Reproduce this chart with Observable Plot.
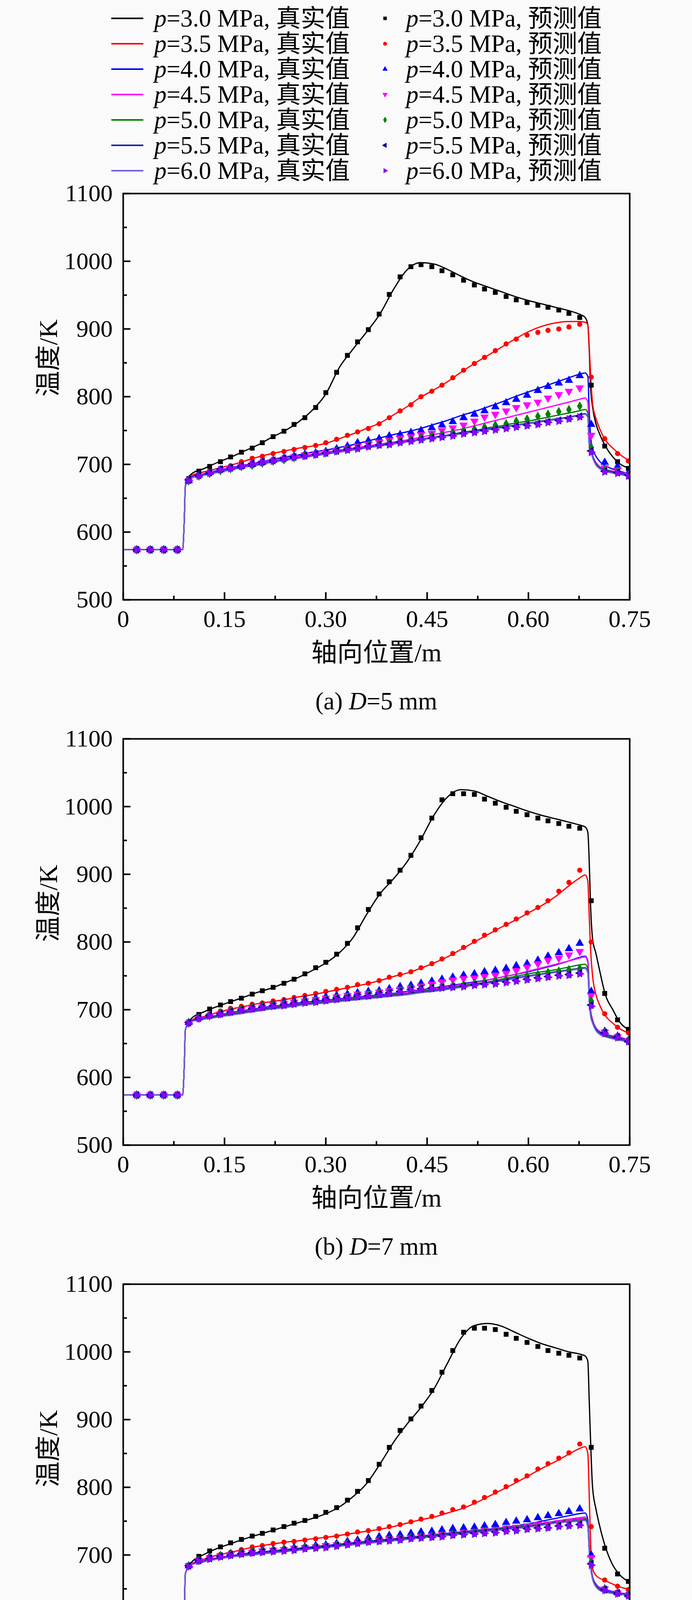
<!DOCTYPE html>
<html><head><meta charset="utf-8">
<script src="https://cdn.jsdelivr.net/npm/d3@7"></script>
<script src="https://cdn.jsdelivr.net/npm/@observablehq/plot@0.6"></script>
<style>
html,body{margin:0;padding:0;background:#fafafa;}
body{width:1772px;height:4625px;position:relative;overflow:hidden;font-family:"Liberation Serif","Noto Sans CJK SC",serif;color:#000;}
.lt{position:absolute;font-size:63px;line-height:72px;white-space:nowrap;}
.cap{position:absolute;left:315px;width:1297px;text-align:center;font-size:63px;line-height:76px;white-space:nowrap;}
</style></head><body>
<script>
// ---------- data ----------
const pressures = ["3.0","3.5","4.0","4.5","5.0","5.5","6.0"];
const lineColors = ["#000000","#ff0000","#0000ff","#ff00ff","#008000","#2020b0","#7060e0"];
const markColors = ["#000000","#ff0000","#0000ff","#ff00ff","#008000","#000090","#8a00ff"];
const panelTags = ["(a)","(b)","(c)"];
const diameters = ["5","7","9"];

const xTicks = [0, 0.15, 0.30, 0.45, 0.60, 0.75];
const xTickLabels = ["0","0.15","0.30","0.45","0.60","0.75"];
const xMinor = [0.075, 0.225, 0.375, 0.525, 0.675];
const yTicks = [500, 600, 700, 800, 900, 1000, 1100];
const yMinor = [550, 650, 750, 850, 950, 1050];

// x positions of the simulated ("真实值") curves
const lineX = [0, 0.088, 0.0905, 0.092, 0.095,
  0.10, 0.12, 0.14, 0.16, 0.18, 0.20, 0.22, 0.24, 0.26, 0.28, 0.30, 0.32, 0.34, 0.36, 0.38,
  0.40, 0.42, 0.44, 0.46, 0.48, 0.50, 0.52, 0.54, 0.56, 0.58, 0.60, 0.62, 0.64, 0.66,
  0.675, 0.684, 0.688, 0.690, 0.692, 0.695, 0.70, 0.705, 0.714, 0.725, 0.735, 0.75];

// x positions of the predicted ("预测值") markers
const markX = [0.02, 0.04, 0.06, 0.08,
  0.097, 0.112, 0.128, 0.144, 0.159, 0.175,
  0.191, 0.206, 0.222, 0.238, 0.253, 0.269, 0.285, 0.300, 0.316, 0.332,
  0.347, 0.363, 0.379, 0.394, 0.410, 0.426, 0.441, 0.457, 0.472, 0.488,
  0.504, 0.520, 0.535, 0.551, 0.567, 0.582, 0.598, 0.614, 0.629, 0.645,
  0.660, 0.676,
  0.693, 0.713, 0.732, 0.748];

// ----- panel (a) D=5 mm -----
const linesA = [
  [574,574,620,668,678, 685,694,703,711,720,729,740,750,763,780,804,843,870,895,922,958,987,998,996,988,978,969,962,955,948,942,937,932,927, 922,917,906,870,815,785,760,746,727,711,701,694],
  [574,574,620,668,677, 683,689,694,699,705,711,716,720,724,727,731,738,745,753,761,773,785,799,810,822,836,849,861,873,885,896,904,909,911, 911,910,906,875,835,790,768,754,736,724,715,705],
  [574,574,620,667,676, 681,686,691,695,699,703,707,711,714,718,721,725,729,734,739,744,748,753,759,765,772,778,785,792,800,807,814,821,828, 833,835,830,780,742,724,712,705,698,693,690,686],
  [574,574,620,667,676, 680,685,690,694,698,702,706,709,712,715,718,721,724,727,730,733,736,740,744,748,752,757,762,767,772,777,782,787,792, 796,798,792,745,725,713,703,697,693,690,688,685],
  [574,574,620,667,675, 680,685,689,693,697,701,704,707,710,713,716,719,722,725,728,731,734,737,740,743,747,750,754,757,761,764,768,772,776, 779,781,776,735,723,712,701,696,692,689,687,684],
  [574,574,620,667,675, 680,685,689,693,697,700,704,707,710,713,716,719,722,725,728,731,734,737,740,743,746,749,752,755,758,761,764,767,770, 773,775,770,730,722,712,700,695,691,688,686,684],
  [574,574,620,667,675, 680,684,688,692,696,699,703,706,709,712,715,718,721,724,727,730,733,736,739,742,745,748,751,754,757,760,763,766,769, 772,774,769,728,720,710,699,694,690,687,685,683]
];
const marksA = [
  [574,574,574,574, 679,690,697,704,711,718, 724,732,741,749,759,769,784,806,836,861, 881,899,922,951,977,992,995,992,986,980, 972,965,959,954,948,943,939,935,932,928, 923,917, 817,727,704,694],
  [574,574,574,574, 678,685,690,694,698,704, 709,712,716,719,722,725,728,732,737,743, 748,753,760,769,779,788,800,808,817,828, 839,849,858,868,878,885,891,895,898,900, 903,907, 829,738,716,705],
  [574,574,574,574, 676,684,688,692,695,697, 700,703,706,709,712,715,717,719,723,727, 732,735,738,742,744,747,750,754,758,763, 769,774,779,785,791,796,802,809,815,820, 824,831, 759,703,697,687],
  [574,574,574,574, 676,683,687,691,694,697, 699,702,705,708,711,714,716,718,721,724, 727,730,733,736,739,741,744,746,750,754, 758,764,770,774,779,784,788,792,798,803, 808,813, 743,695,692,685],
  [574,574,574,574, 676,683,687,691,694,697, 699,702,705,707,710,713,715,717,720,723, 725,728,730,733,735,737,740,742,744,747, 750,752,755,758,760,764,767,771,774,778, 781,786, 725,692,690,684],
  [574,574,574,574, 677,684,688,693,695,698, 701,704,706,709,711,713,715,717,720,722, 724,727,729,730,733,735,737,739,741,743, 746,748,750,752,754,756,758,760,763,765, 768,771, 720,690,688,684],
  [574,574,574,574, 676,683,687,692,694,697, 700,703,705,708,710,712,714,716,719,721, 723,726,728,729,732,734,736,738,740,742, 745,747,749,751,753,755,757,759,762,764, 767,770, 718,689,687,683]
];

// ----- panel (b) D=7 mm -----
const linesB = [
  [574,574,620,670,678, 686,697,705,712,719,726,732,740,748,758,769,784,806,840,871,893,918,950,987,1014,1025,1023,1015,1007,1000,993,987,982,977, 973,970,962,920,855,805,783,760,722,700,682,670],
  [574,574,620,670,678, 684,690,696,701,705,709,712,715,719,722,726,730,734,738,743,749,754,761,769,778,789,800,811,822,832,843,854,867,883, 894,899,890,840,790,750,722,708,691,680,672,665],
  [574,574,620,670,678, 683,688,692,696,699,702,705,707,710,712,714,716,718,720,722,724,727,729,732,735,738,741,744,748,752,756,761,766,772, 777,779,772,730,700,685,673,668,664,661,659,655],
  [574,574,620,670,678, 683,688,692,695,698,701,704,706,709,711,713,715,717,719,721,723,726,728,731,734,737,740,744,748,752,757,762,767,772, 776,778,770,728,698,684,672,667,663,660,658,654],
  [574,574,620,670,678, 683,687,691,694,697,700,703,705,708,710,712,714,716,718,720,722,724,727,729,732,735,738,741,745,749,753,756,759,763, 766,767,760,722,695,682,671,666,662,659,657,654],
  [574,574,620,670,678, 683,687,690,693,696,699,702,704,707,709,711,713,715,717,719,721,723,726,728,731,734,737,740,743,747,750,753,756,759, 761,762,755,718,693,681,670,665,661,658,656,653],
  [574,574,620,670,678, 682,686,689,692,695,698,701,703,706,708,710,712,714,716,718,720,722,725,727,730,733,736,739,742,746,749,752,755,758, 760,761,754,716,691,680,669,664,660,657,655,652]
];
const marksB = [
  [574,574,574,574, 682,693,701,707,712,717, 723,728,733,739,745,753,762,770,782,798, 821,848,871,889,906,928,954,983,1010,1019, 1019,1018,1011,1005,999,993,988,983,979,975, 971,968, 861,724,685,671],
  [574,574,574,574, 682,690,693,698,702,705, 708,710,713,715,718,721,724,727,730,733, 737,739,743,748,752,756,762,768,775,783, 792,801,810,818,826,834,843,851,861,875, 888,906, 800,694,674,666],
  [574,574,574,574, 681,688,692,695,698,701, 704,706,708,711,713,715,717,719,721,723, 725,727,728,731,734,736,739,742,745,748, 751,753,756,758,761,765,768,773,779,784, 790,798, 727,668,661,655],
  [574,574,574,574, 680,687,691,694,697,700, 702,704,707,709,711,713,715,717,719,721, 723,724,726,728,730,732,735,738,741,744, 746,747,749,751,754,758,763,768,773,776, 781,786, 721,667,660,654],
  [574,574,574,574, 681,688,692,695,698,701, 703,705,707,708,710,712,713,715,717,719, 721,722,724,726,728,731,732,733,734,735, 737,739,741,743,745,747,750,752,755,757, 759,761, 713,666,660,654],
  [574,574,574,574, 681,688,692,694,697,700, 702,704,706,707,709,711,712,714,716,718, 720,721,723,725,727,730,731,732,733,734, 735,737,738,739,741,743,745,747,749,751, 752,754, 707,666,660,653],
  [574,574,574,574, 680,687,691,693,696,699, 701,703,705,706,708,710,711,713,715,717, 719,720,722,724,726,729,730,731,732,733, 734,736,737,738,740,742,744,746,748,750, 751,753, 705,665,659,653]
];

// ----- panel (c) D=9 mm -----
const linesC = [
  [574,574,620,672,680, 688,701,710,717,724,730,736,742,748,754,761,771,786,805,834,866,893,917,945,983,1020,1039,1042,1038,1029,1020,1012,1006,1000, 997,994,986,930,870,800,768,745,712,685,671,660],
  [574,574,620,672,680, 686,694,700,704,709,713,716,719,721,724,726,729,732,735,738,742,747,752,756,762,768,776,786,796,806,817,828,838,849, 857,860,850,790,720,680,670,666,662,657,653,649],
  [574,574,620,672,680, 686,692,696,699,702,704,706,708,710,712,714,716,718,720,722,724,726,728,730,732,734,736,738,740,743,746,750,754,758, 761,762,752,715,690,668,657,652,649,646,644,642],
  [574,574,620,672,680, 686,692,696,699,701,703,705,707,709,711,713,715,717,719,721,723,725,727,729,731,733,735,737,739,742,744,747,750,753, 755,756,746,712,688,667,656,651,648,645,643,642],
  [574,574,620,672,680, 686,691,695,698,701,703,705,707,709,711,713,715,717,719,721,723,725,727,729,731,733,735,737,739,741,743,746,749,752, 753,754,744,710,686,666,655,650,647,644,643,641],
  [574,574,620,672,680, 685,691,695,698,700,702,704,706,708,710,712,714,716,718,720,722,724,726,728,730,732,734,736,738,740,742,745,748,750, 751,752,742,708,684,665,654,649,646,644,642,641],
  [574,574,620,672,680, 685,690,694,697,699,701,703,705,707,709,711,713,715,717,719,721,723,725,727,729,731,733,735,737,739,741,744,747,749, 750,751,741,706,682,664,653,648,645,643,642,640]
];
const marksC = [
  [574,574,574,574, 684,698,706,712,718,723, 728,732,737,742,747,751,757,763,770,781, 794,810,834,859,884,901,920,943,970,1002, 1029,1035,1035,1033,1026,1020,1014,1008,1002,998, 995,991, 859,710,672,661],
  [574,574,574,574, 684,694,698,701,704,708, 712,714,717,719,720,722,724,726,728,731, 734,736,739,742,745,749,753,757,762,767, 771,778,785,793,801,810,817,827,835,843, 851,864, 742,663,654,649],
  [574,574,574,574, 684,692,697,699,702,704, 705,707,708,709,711,712,714,715,717,720, 722,725,727,729,730,732,734,735,737,739, 740,741,743,745,748,750,752,755,758,761, 764,768, 700,650,644,641],
  [574,574,574,574, 684,692,696,699,701,703, 704,706,707,708,710,711,712,714,715,717, 719,721,722,724,725,726,728,729,731,732, 734,735,737,738,740,741,743,745,746,748, 750,752, 696,650,644,641],
  [574,574,574,574, 684,692,696,699,701,703, 705,706,707,708,709,711,712,713,715,717, 719,721,722,723,724,726,727,728,729,731, 732,733,734,735,737,738,740,741,742,744, 745,747, 690,649,644,641],
  [574,574,574,574, 684,692,695,698,700,702, 704,705,706,707,708,710,711,712,714,716, 718,720,721,722,723,725,726,727,728,730, 731,732,733,734,736,737,739,740,741,743, 744,745, 687,649,644,640],
  [574,574,574,574, 683,691,694,697,699,701, 703,704,705,706,707,709,710,711,713,715, 717,719,720,721,722,724,725,726,727,729, 730,731,732,733,735,736,738,739,740,742, 743,744, 685,648,643,640]
];

// ---------- symbols ----------
const SQ3 = Math.sqrt(3);
function triangleSymbol(turn) {
  return {
    draw(ctx, size) {
      const y = -Math.sqrt(size / (SQ3 * 3));
      const pts = [[0, y * 2], [-SQ3 * y, -y], [SQ3 * y, -y]];
      pts.forEach(([px, py], k) => {
        const [qx, qy] = turn(px, py);
        if (k) ctx.lineTo(qx, qy); else ctx.moveTo(qx, qy);
      });
      ctx.closePath();
    }
  };
}
const triUp = d3.symbolTriangle;
const triDown = triangleSymbol((x, y) => [x, -y]);
const triLeft = triangleSymbol((x, y) => [y, x]);
const triRight = triangleSymbol((x, y) => [-y, x]);
const symbols = [d3.symbolSquare, d3.symbolCircle, triUp, triDown, d3.symbolDiamond, triLeft, triRight];
const markR = [7.0, 6.6, 8.0, 8.0, 7.4, 7.8, 7.8];

const FONT = "Liberation Serif, Noto Sans CJK SC, serif";

// ---------- legend ----------
const body = d3.select("body");
pressures.forEach((p, i) => {
  const yc = 47 + 65 * i;
  body.append("svg").style("position", "absolute").style("left", "285px").style("top", (yc - 5) + "px")
    .attr("width", 82).attr("height", 10)
    .append("line").attr("x1", 0).attr("x2", 82).attr("y1", 5).attr("y2", 5)
    .attr("stroke", lineColors[i]).attr("stroke-width", 4);
  body.append("div").attr("class", "lt").style("left", "395px").style("top", (yc - 36) + "px")
    .html(`<i>p</i>=${p} MPa, 真实值`);
  body.append("svg").style("position", "absolute").style("left", "971px").style("top", (yc - 15) + "px")
    .attr("width", 30).attr("height", 30)
    .append("path").attr("transform", "translate(15,15)")
    .attr("d", d3.symbol(symbols[i], Math.PI * 5 * 5)())
    .attr("fill", markColors[i]);
  body.append("div").attr("class", "lt").style("left", "1040px").style("top", (yc - 36) + "px")
    .html(`<i>p</i>=${p} MPa, 预测值`);
});

// ---------- panels ----------
function makePanel(k, lines, marks) {
  const lineMarks = lines.map((vals, i) => Plot.line(lineX.map((x, j) => ({x, y: vals[j]})), {
    x: "x", y: "y", stroke: lineColors[i], strokeWidth: 3.2, curve: "monotone-x", clip: true
  }));
  const dotMarks = marks.map((vals, i) => Plot.dot(markX.map((x, j) => ({x, y: vals[j]})), {
    x: "x", y: "y", symbol: symbols[i], r: markR[i], fill: markColors[i], stroke: "none", clip: true
  }));
  const svg = Plot.plot({
    width: 1772, height: 1270,
    marginTop: 25, marginLeft: 315, marginRight: 160, marginBottom: 205,
    x: {domain: [0, 0.75]},
    y: {domain: [500, 1100]},
    style: {fontFamily: FONT, fontSize: "62px", background: "transparent", color: "#000", overflow: "visible"},
    marks: [
      ...lineMarks,
      ...dotMarks,
      Plot.frame({stroke: "#000", strokeWidth: 4}),
      Plot.axisX(xTicks, {tickSize: -19, tickPadding: 44, strokeWidth: 4, fontSize: 62, label: null,
        tickFormat: d => xTickLabels[xTicks.indexOf(d)]}),
      Plot.axisX(xMinor, {tickSize: -10, strokeWidth: 4, label: null, tickFormat: () => ""}),
      Plot.axisY(yTicks, {tickSize: -19, tickPadding: 46, strokeWidth: 4, fontSize: 62, label: null,
        tickFormat: d => String(d)}),
      Plot.axisY(yMinor, {tickSize: -10, strokeWidth: 4, label: null, tickFormat: () => ""}),
      Plot.text(["轴向位置/m"], {frameAnchor: "bottom", dy: 157, fontSize: 66}),
      Plot.text(["温度/K"], {frameAnchor: "left", dx: -191, rotate: -90, fontSize: 66})
    ]
  });
  const wrap = body.append("div").style("position", "absolute").style("left", "0px")
    .style("top", (470 + 1396 * k) + "px").style("width", "1772px").style("height", "1363px");
  wrap.node().appendChild(svg);
  wrap.append("div").attr("class", "cap").style("top", "1287px")
    .html(`${panelTags[k]} <i>D</i>=${diameters[k]} mm`);
}
makePanel(0, linesA, marksA);
makePanel(1, linesB, marksB);
makePanel(2, linesC, marksC);
</script>
</body></html>
